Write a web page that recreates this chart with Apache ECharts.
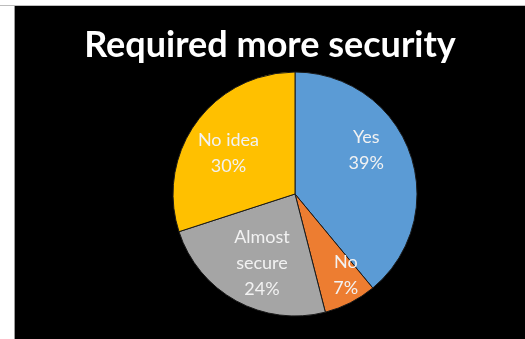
<!DOCTYPE html>
<html>
<head>
<meta charset="utf-8">
<script src="https://cdn.jsdelivr.net/npm/echarts@6/dist/echarts.min.js"></script>
<style>
  html, body { margin: 0; padding: 0; background: #000; overflow: hidden; width: 100%; height: 100%; }
  .edge { position: absolute; background: #fff; }
  #edgeLeft { left: 0; top: 0; width: 14px; height: 100%; border-right: 1px solid #9a9a9a; }
  #edgeTop { left: 0; top: 0; width: 100%; height: 5px; border-bottom: 1px solid #bdbdbd; }
  #chart { position: absolute; left: 15px; top: 6px; width: 510px; height: 333px; }
</style>
</head>
<body>
<div id="chart"></div>
<div class="edge" id="edgeLeft"></div>
<div class="edge" id="edgeTop"></div>
<script>
const titleText = 'Required more security';
const categories = ['Yes', 'No', 'Almost\nsecure', 'No idea'];
const shares = [39, 7, 24, 30];
const sliceColors = ['#5B9BD5', '#ED7D31', '#A5A5A5', '#FFC000'];
// small per-slice label nudges (px) for a best-fit style placement
const labelNudge = [[-5, -16], [14, 9], [6, -2], [-1, 7]];

const pieData = categories.map((name, i) => ({
  name: name,
  value: shares[i],
  itemStyle: { color: sliceColors[i] }
}));

const chart = echarts.init(document.getElementById('chart'), null, { renderer: 'canvas' });

chart.setOption({
  backgroundColor: '#000',
  animation: false,
  title: {
    text: titleText,
    left: 'center',
    top: 16,
    textStyle: {
      color: '#ffffff',
      fontFamily: 'Lato',
      fontWeight: 'bold',
      fontSize: 36
    }
  },
  series: [
    {
      type: 'pie',
      center: [280, 188],
      radius: [0, 122],
      startAngle: 90,
      clockwise: true,
      silent: true,
      label: { show: false },
      labelLine: { show: false },
      itemStyle: { borderColor: '#1a1a1a', borderWidth: 1 },
      data: pieData
    },
    {
      // transparent ring only used to place the slice labels further out
      type: 'pie',
      center: [280, 188],
      radius: [34, 122],
      startAngle: 90,
      clockwise: true,
      silent: true,
      itemStyle: { color: 'rgba(0,0,0,0)', borderWidth: 0 },
      labelLine: { show: false },
      label: {
        show: true,
        position: 'inside',
        color: '#f2f2f2',
        fontFamily: 'Lato',
        fontSize: 18,
        lineHeight: 26,
        formatter: p => p.name + '\n' + p.value + '%'
      },
      labelLayout: p => ({ dx: labelNudge[p.dataIndex][0], dy: labelNudge[p.dataIndex][1] }),
      data: categories.map((name, i) => ({ name: name, value: shares[i] }))
    }
  ]
});
</script>
</body>
</html>
